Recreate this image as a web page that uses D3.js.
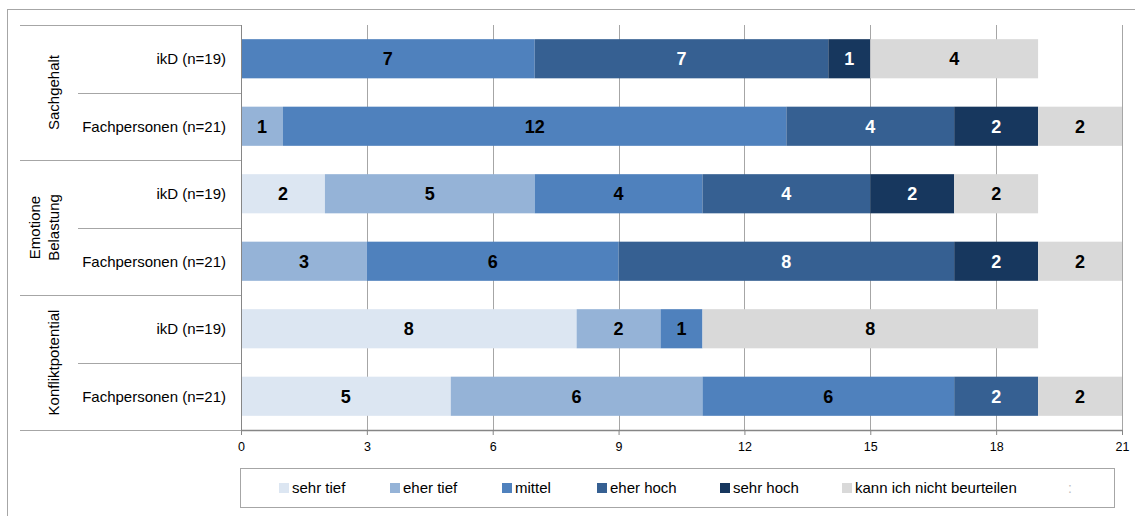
<!DOCTYPE html>
<html><head><meta charset="utf-8">
<script src="https://cdn.jsdelivr.net/npm/d3@7"></script>
<style>body{margin:0;background:#fff;} svg{display:block;font-family:"Liberation Sans",Arial,sans-serif;}</style>
</head><body><svg id="c" width="1135" height="516"></svg>
<script>
const groups = ["Sachgehalt", "Emotione\nBelastung", "Konfliktpotential"];
const rowLabels = ["ikD (n=19)", "Fachpersonen (n=21)"];
const seriesNames = ["sehr tief", "eher tief", "mittel", "eher hoch", "sehr hoch", "kann ich nicht beurteilen"];
const seriesColors = ["#dce6f2", "#95b3d7", "#4f81bd", "#366092", "#17375e", "#d9d9d9"];
const labelColors = ["#000", "#000", "#000", "#fff", "#fff", "#000"];
// values per row (group, respondent type), in series order
const sachgehaltIkd  = [0, 0, 7, 7, 1, 4];
const sachgehaltFach = [0, 1, 12, 4, 2, 2];
const emotionIkd     = [2, 5, 4, 4, 2, 2];
const emotionFach    = [0, 3, 6, 8, 2, 2];
const konfliktIkd    = [8, 2, 1, 0, 0, 8];
const konfliktFach   = [5, 6, 6, 2, 0, 2];
const ticks = [0, 3, 6, 9, 12, 15, 18, 21];

const rows = [
  {g:0, r:0, v:sachgehaltIkd}, {g:0, r:1, v:sachgehaltFach},
  {g:1, r:0, v:emotionIkd},    {g:1, r:1, v:emotionFach},
  {g:2, r:0, v:konfliktIkd},   {g:2, r:1, v:konfliktFach}
];

const svg = d3.select("#c");
const L = 241, R = 1122, T = 25, B = 430;
const x = d3.scaleLinear().domain([0, 21]).range([L, R]);
const y = d3.scaleBand().domain(d3.range(rows.length)).range([T, B]).paddingInner(0.42).paddingOuter(0.21);

// outer border
svg.append("rect").attr("x", 7.5).attr("y", 9.5).attr("width", 1140).attr("height", 520)
  .attr("fill", "none").attr("stroke", "#a6a6a6");

// gridlines
svg.append("g").selectAll("line").data(ticks.slice(1)).join("line")
  .attr("x1", d => Math.round(x(d)) + 0.5).attr("x2", d => Math.round(x(d)) + 0.5)
  .attr("y1", T).attr("y2", B)
  .attr("stroke", "#a6a6a6").attr("stroke-width", 1);

// bars
const rowH = (B - T) / rows.length;
rows.forEach((row, i) => {
  let cum = 0;
  const segs = row.v.map((v, s) => { const d = {s, v, x0: cum, x1: cum + v}; cum += v; return d; }).filter(d => d.v > 0);
  const g = svg.append("g");
  g.selectAll("rect").data(segs).join("rect")
    .attr("x", d => x(d.x0)).attr("width", d => x(d.x1) - x(d.x0))
    .attr("y", y(i)).attr("height", y.bandwidth())
    .attr("fill", d => seriesColors[d.s]);
  g.selectAll("text").data(segs).join("text")
    .attr("x", d => (x(d.x0) + x(d.x1)) / 2).attr("y", y(i) + y.bandwidth() / 2)
    .attr("dy", "0.36em").attr("text-anchor", "middle")
    .attr("font-weight", "bold").attr("font-size", 18)
    .attr("fill", d => labelColors[d.s]).text(d => d.v);
});

// x axis
const xAxis = d3.axisBottom(x).tickValues(ticks).tickSize(5).tickSizeOuter(0);
const ax = svg.append("g").attr("transform", `translate(0,${B})`).call(xAxis);
ax.select(".domain").attr("stroke", "#868686").attr("stroke-width", 1.5);
ax.selectAll(".tick line").attr("stroke", "#868686");
ax.selectAll(".tick text").attr("font-size", 12.5).attr("fill", "#000").attr("dy", "1.05em")
  .attr("font-family", "Liberation Sans, Arial, sans-serif");

// left axis: vertical line, separators
const sep = svg.append("g").attr("stroke", "#a6a6a6").attr("stroke-width", 1);
sep.append("line").attr("x1", L + 0.5).attr("x2", L + 0.5).attr("y1", T).attr("y2", B + 5).attr("stroke", "#868686");
[0, 1, 2, 3].forEach(k => {
  const yy = Math.round(T + k * 2 * rowH) + 0.5;
  sep.append("line").attr("x1", 20).attr("x2", L).attr("y1", yy).attr("y2", yy);
});
[0, 1, 2].forEach(k => {
  const yy = Math.round(T + (k * 2 + 1) * rowH) + 0.5;
  sep.append("line").attr("x1", 78).attr("x2", L).attr("y1", yy).attr("y2", yy);
});

// row labels
svg.append("g").selectAll("text").data(rows).join("text")
  .attr("x", 226).attr("y", (d, i) => y(i) + y.bandwidth() / 2).attr("dy", "0.35em")
  .attr("text-anchor", "end").attr("font-size", 15).attr("fill", "#000")
  .text(d => rowLabels[d.r]);

// group labels
groups.forEach((gname, k) => {
  const cy = T + (k * 2 + 1) * rowH;
  const lines = gname.split("\n");
  const cx = lines.length > 1 ? 49 : 54;
  const t = svg.append("text").attr("transform", `translate(${cx},${cy}) rotate(-90)`)
    .attr("text-anchor", "middle").attr("font-size", 15).attr("fill", "#000");
  lines.forEach((ln, j) => {
    t.append("tspan").attr("x", 0).attr("dy", j === 0 ? (lines.length > 1 ? "-0.62em" : "0.35em") : "1.3em").text(ln);
  });
});

// legend
const lg = svg.append("g");
lg.append("rect").attr("x", 240.5).attr("y", 468.5).attr("width", 874).attr("height", 39)
  .attr("fill", "#fff").attr("stroke", "#a6a6a6");
const legX = [279, 390, 502, 597, 720, 842];
seriesNames.forEach((n, s) => {
  lg.append("rect").attr("x", legX[s]).attr("y", 483).attr("width", 10).attr("height", 10).attr("fill", seriesColors[s]);
  lg.append("text").attr("x", legX[s] + 13).attr("y", 488).attr("dy", "0.35em")
    .attr("font-size", 15).attr("fill", "#000").text(n);
});
lg.append("text").attr("x", 1068).attr("y", 488).attr("dy", "0.35em").attr("font-size", 14).attr("fill", "#c0c0c0").text(":");
</script></body></html>
